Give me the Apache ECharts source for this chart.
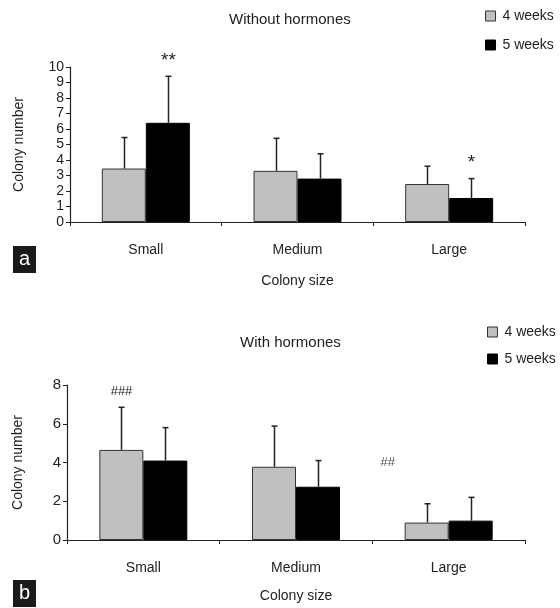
<!DOCTYPE html>
<html>
<head>
<meta charset="utf-8">
<script src="https://cdn.jsdelivr.net/npm/echarts@6/dist/echarts.min.js"></script>
<style>
  html, body { margin: 0; padding: 0; background: #fff; }
  #chart { width: 560px; height: 608px; }
</style>
</head>
<body>
<div id="chart"></div>
<script>
// categories and series
const categories = ['Small', 'Medium', 'Large']
const seriesNames = ['4 weeks', '5 weeks']

// panel a: without hormones
const a4 = [3.45, 3.3, 2.45]
const a4Err = [2.0, 2.1, 1.15]
const a5 = [6.4, 2.8, 1.55]
const a5Err = [3.0, 1.6, 1.25]
const a4Marks = ['', '', '']
const a5Marks = ['**', '', '*']

// panel b: with hormones
const b4 = [4.65, 3.78, 0.9]
const b4Err = [2.2, 2.1, 0.97]
const b5 = [4.1, 2.75, 1.0]
const b5Err = [1.7, 1.35, 1.2]
const b4Marks = ['###', '', '']
const b5Marks = ['', '', '']
const bExtraMark = { text: '##', category: 'Large', value: 4.0 }

const FONT = '"Liberation Sans", Arial, sans-serif'
const BAR_W = 44
const GRAY = '#c0c0c0'
const EDGE = '#333'

const chart = echarts.init(document.getElementById('chart'))

function barSeries (name, gridIdx, values) {
    const gray = name === seriesNames[0]
    return {
        type: 'bar',
        name,
        xAxisIndex: gridIdx,
        yAxisIndex: gridIdx,
        barWidth: BAR_W,
        barGap: '0%',
        data: values,
        itemStyle: {
            color: gray ? GRAY : '#000',
            borderColor: gray ? EDGE : '#000',
            borderWidth: 1
        },
        emphasis: { disabled: true }
    }
}

// error bars (upper only) + significance marks
function errorSeries (gridIdx, values, errs, marks, side) {
    return {
        type: 'custom',
        xAxisIndex: gridIdx,
        yAxisIndex: gridIdx,
        z: 5,
        data: values.map((v, i) => [i, v, v + errs[i]]),
        encode: { x: 0, y: [1, 2] },
        renderItem: (params, api) => {
            const i = api.value(0)
            const base = api.coord([i, api.value(1)])
            const top = api.coord([i, api.value(2)])
            const x = Math.round(base[0] + side * BAR_W / 2) + 0.5
            const children = [
                {
                    type: 'line',
                    shape: { x1: x, y1: base[1], x2: x, y2: top[1] },
                    style: { stroke: '#222', lineWidth: 1.5 }
                },
                {
                    type: 'line',
                    shape: { x1: x - 3, y1: top[1], x2: x + 3, y2: top[1] },
                    style: { stroke: '#222', lineWidth: 1.5 }
                }
            ]
            const m = marks[params.dataIndex]
            if (m) {
                // asterisks drawn larger, they sit high in the em box
                const star = m.indexOf('*') >= 0
                children.push({
                    type: 'text',
                    style: {
                        text: m, x: x, y: star ? top[1] - 25 : top[1] - 22,
                        align: 'center', verticalAlign: 'top',
                        font: (star ? '19px ' : '13px ') + FONT, fill: '#222'
                    }
                })
            }
            return { type: 'group', children }
        }
    }
}

function xAxis (gridIdx, nameGap) {
    return {
        type: 'category',
        gridIndex: gridIdx,
        data: categories,
        name: 'Colony size',
        nameLocation: 'middle',
        nameGap,
        nameTextStyle: { fontFamily: FONT, fontSize: 14, color: '#222' },
        axisLine: { lineStyle: { color: '#222', width: 1.2 } },
        axisTick: { show: true, length: 4, lineStyle: { color: '#222' } },
        axisLabel: { fontFamily: FONT, fontSize: 14, color: '#222', margin: 21 }
    }
}

function yAxis (gridIdx, max, interval, fontSize, nameGap) {
    return {
        type: 'value',
        gridIndex: gridIdx,
        min: 0,
        max,
        interval,
        name: 'Colony number',
        nameLocation: 'middle',
        nameRotate: 90,
        nameGap,
        nameTextStyle: { fontFamily: FONT, fontSize: 14, color: '#222' },
        axisLine: { show: true, lineStyle: { color: '#222', width: 1.2 } },
        axisTick: { show: true, length: 4, lineStyle: { color: '#222' } },
        axisLabel: { fontFamily: FONT, fontSize, color: '#222', margin: 6 },
        splitLine: { show: false }
    }
}

function legend (top, left, gap) {
    return {
        orient: 'vertical',
        top,
        left,
        itemWidth: 10,
        itemHeight: 10,
        itemGap: gap,
        selectedMode: false,
        textStyle: { fontFamily: FONT, fontSize: 14, color: '#222', padding: [0, 0, 0, 2] },
        data: [
            { name: seriesNames[0], icon: 'rect', itemStyle: { color: GRAY, borderColor: EDGE, borderWidth: 1 } },
            { name: seriesNames[1], icon: 'rect', itemStyle: { color: '#000', borderColor: '#000', borderWidth: 1 } }
        ]
    }
}

function panelLabel (txt, top) {
    return {
        type: 'group',
        left: 13,
        top,
        children: [
            { type: 'rect', shape: { x: 0, y: 0, width: 23, height: 27 }, style: { fill: '#1a1a1a' } },
            {
                type: 'text',
                style: {
                    text: txt, x: 11.5, y: 13.5, align: 'center', verticalAlign: 'middle',
                    font: '20px ' + FONT, fill: '#fff'
                }
            }
        ]
    }
}

const titleStyle = { fontFamily: FONT, fontSize: 15, fontWeight: 'normal', color: '#222' }

const option = {
    animation: false,
    backgroundColor: '#fff',
    title: [
        { text: 'Without hormones', left: 224, top: 7, textStyle: titleStyle },
        { text: 'With hormones', left: 235, top: 330, textStyle: titleStyle }
    ],
    legend: [legend(4, 480, 15), legend(320, 482, 13)],
    grid: [
        { left: 70, right: 35, top: 67, height: 155 },
        { left: 67, right: 35, top: 385, height: 155 }
    ],
    xAxis: [xAxis(0, 52), xAxis(1, 49)],
    yAxis: [yAxis(0, 10, 1, 14, 44), yAxis(1, 8, 2, 15, 42)],
    graphic: [panelLabel('a', 246), panelLabel('b', 580)],
    series: [
        barSeries(seriesNames[0], 0, a4),
        barSeries(seriesNames[1], 0, a5),
        errorSeries(0, a4, a4Err, a4Marks, -1),
        errorSeries(0, a5, a5Err, a5Marks, 1),
        barSeries(seriesNames[0], 1, b4),
        barSeries(seriesNames[1], 1, b5),
        errorSeries(1, b4, b4Err, b4Marks, -1),
        errorSeries(1, b5, b5Err, b5Marks, 1),
        {
            type: 'scatter',
            xAxisIndex: 1,
            yAxisIndex: 1,
            symbolSize: 0,
            data: [[bExtraMark.category, bExtraMark.value]],
            label: {
                show: true,
                position: 'inside',
                offset: [-61, 0],
                formatter: bExtraMark.text,
                fontFamily: FONT,
                fontSize: 13,
                color: '#222'
            }
        }
    ]
}

chart.setOption(option)
</script>
</body>
</html>
